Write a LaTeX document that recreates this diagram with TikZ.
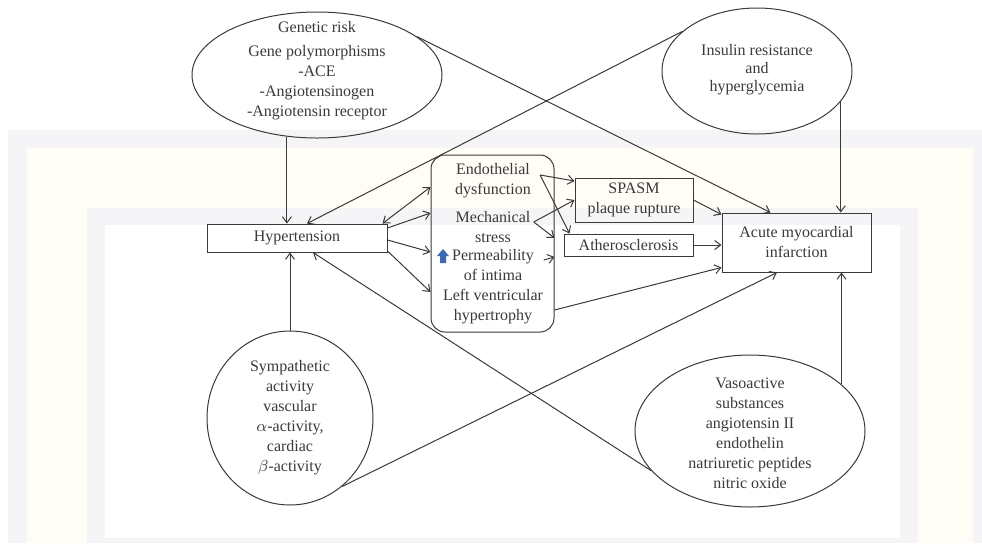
\documentclass[tikz,border=0pt]{standalone}
\usepackage{fontspec}
\setmainfont{Liberation Serif}
\usetikzlibrary{arrows.meta,calc,shapes.geometric}
\definecolor{ink}{RGB}{58,58,58}
\definecolor{wmgray}{RGB}{245,245,247}
\definecolor{wmyel}{RGB}{255,253,246}
\definecolor{upblue}{RGB}{61,106,179}
\begin{document}
\begin{tikzpicture}[x=0.5pt,y=-0.5pt,
  >={Straight Barb[length=3pt,width=4.5pt]},
  ell/.style={draw=ink,ellipse,inner sep=0pt,line width=0.5pt},
  box/.style={draw=ink,rectangle,inner sep=0pt,line width=0.5pt},
  txt/.style={text=ink,align=center,inner sep=0pt,font=\fontsize{8}{10}\selectfont},
  con/.style={draw=ink,line width=0.5pt,->}]
\useasboundingbox (0,0) rectangle (982,543);
% watermark frames
\fill[wmgray] (8,130) rectangle (982,543);
\fill[wmyel] (27,148) rectangle (973,543);
\fill[wmgray] (87,208) rectangle (918,543);
\fill[white] (105,225) rectangle (900,538);

% outer factors
\node[ell,minimum width=125pt,minimum height=63pt] (gen) at (317,75) {};
\node[txt] (gen-t) at (317,71) {Genetic risk\\[2pt]Gene polymorphisms\\-ACE\\-Angiotensinogen\\-Angiotensin receptor};
\node[ell,minimum width=95pt,minimum height=63pt] (ins) at (757,71) {};
\node[txt] (ins-t) at (757,70) {Insulin resistance\\[-1pt]and\\[-1pt]hyperglycemia};
\node[ell,minimum width=83pt,minimum height=87pt] (sym) at (290,418) {};
\node[txt] (sym-t) at (290,418) {Sympathetic\\activity\\vascular\\$\alpha$-activity,\\cardiac\\$\beta$-activity};
\node[ell,minimum width=115pt,minimum height=76pt] (vaso) at (750,431) {};
\node[txt] (vaso-t) at (750,433) {Vasoactive\\substances\\angiotensin II\\endothelin\\natriuretic peptides\\nitric oxide};

% middle row
\node[box,txt,minimum width=90pt,minimum height=14pt] (hyp) at (297,238) {Hypertension};
\node[box,rounded corners=7pt,minimum width=61.5pt,minimum height=88.5pt] (mech) at (492.5,243.5) {};
\node[txt] (endo) at (493,181) {Endothelial\\dysfunction};
\node[txt] (mechst) at (493,227) {Mechanical\\stress};
\node[txt] (perm) at (493,265) {Permeability\\of intima};
\node[txt] (lvh) at (493,307) {Left ventricular\\hypertrophy};
\fill[upblue] (437,256) -- (443,249) -- (449,256) -- (446,256) -- (446,263) -- (440,263) -- (440,256) -- cycle;
\node[box,txt,minimum width=59pt,minimum height=22pt] (spasm) at (634,200) {SPASM\\plaque rupture};
\node[box,txt,minimum width=64.5pt,minimum height=11pt] (athero) at (628.5,245) {Atherosclerosis};
\node[box,txt,minimum width=74.5pt,minimum height=29.5pt] (ami) at (796.5,242.5) {Acute myocardial\\infarction};

\coordinate (e1) at ($(endo.east)+(9,-6)$);
\coordinate (m1) at ($(mechst.east)+(3,-5)$);
\coordinate (p1) at ($(perm.east)+(9.5,-5)$);

% connectors
\draw[con] (gen.-116) -- (gen.-116 |- hyp.north);
\draw[con] (ins.152) -- ($(hyp.north)+(10,0)$);
\draw[con] (gen.21.6) -- ($(ami.north)+(-26,0)$);
\draw[con] (ins.-20.5) -- (ins.-20.5 |- ami.north);
\draw[con] (vaso.27.6) -- (vaso.27.6 |- ami.south);
\draw[con] (vaso.-158) -- ($(hyp.south)+(16,0)$);
\draw[con] (sym.north) -- (sym.north |- hyp.south);
\draw[con] (sym.-53) -- ($(ami.south)+(-19.5,0)$);

\draw[con,<->] ($(hyp.north east)+(-5,0)$) -- (mech.west |- 0,187);
\draw[con] (hyp.east |- 0,228) -- (mech.west |- 0,213);
\draw[con] (hyp.east |- 0,240) -- (mech.west |- 0,252);
\draw[con] (hyp.east |- 0,251) -- (mech.west |- 0,292);

\draw[con] (e1) -- (spasm.west |- 0,181);
\draw[con] (e1) -- ($(athero.north west)+(6,0)$);
\draw[con] (m1) -- (spasm.west);
\draw[con] (m1) -- (mech.east |- 0,238);
\draw[con] (p1) -- (mech.east |- 0,257);

\draw[con] (spasm.east) -- ($(ami.north west)+(0,2)$);
\draw[con] (athero.east) -- (athero.east -| ami.west);
\draw[con] (mech.east |- 0,310) -- ($(ami.south west)+(0,-5)$);
\end{tikzpicture}
\end{document}
